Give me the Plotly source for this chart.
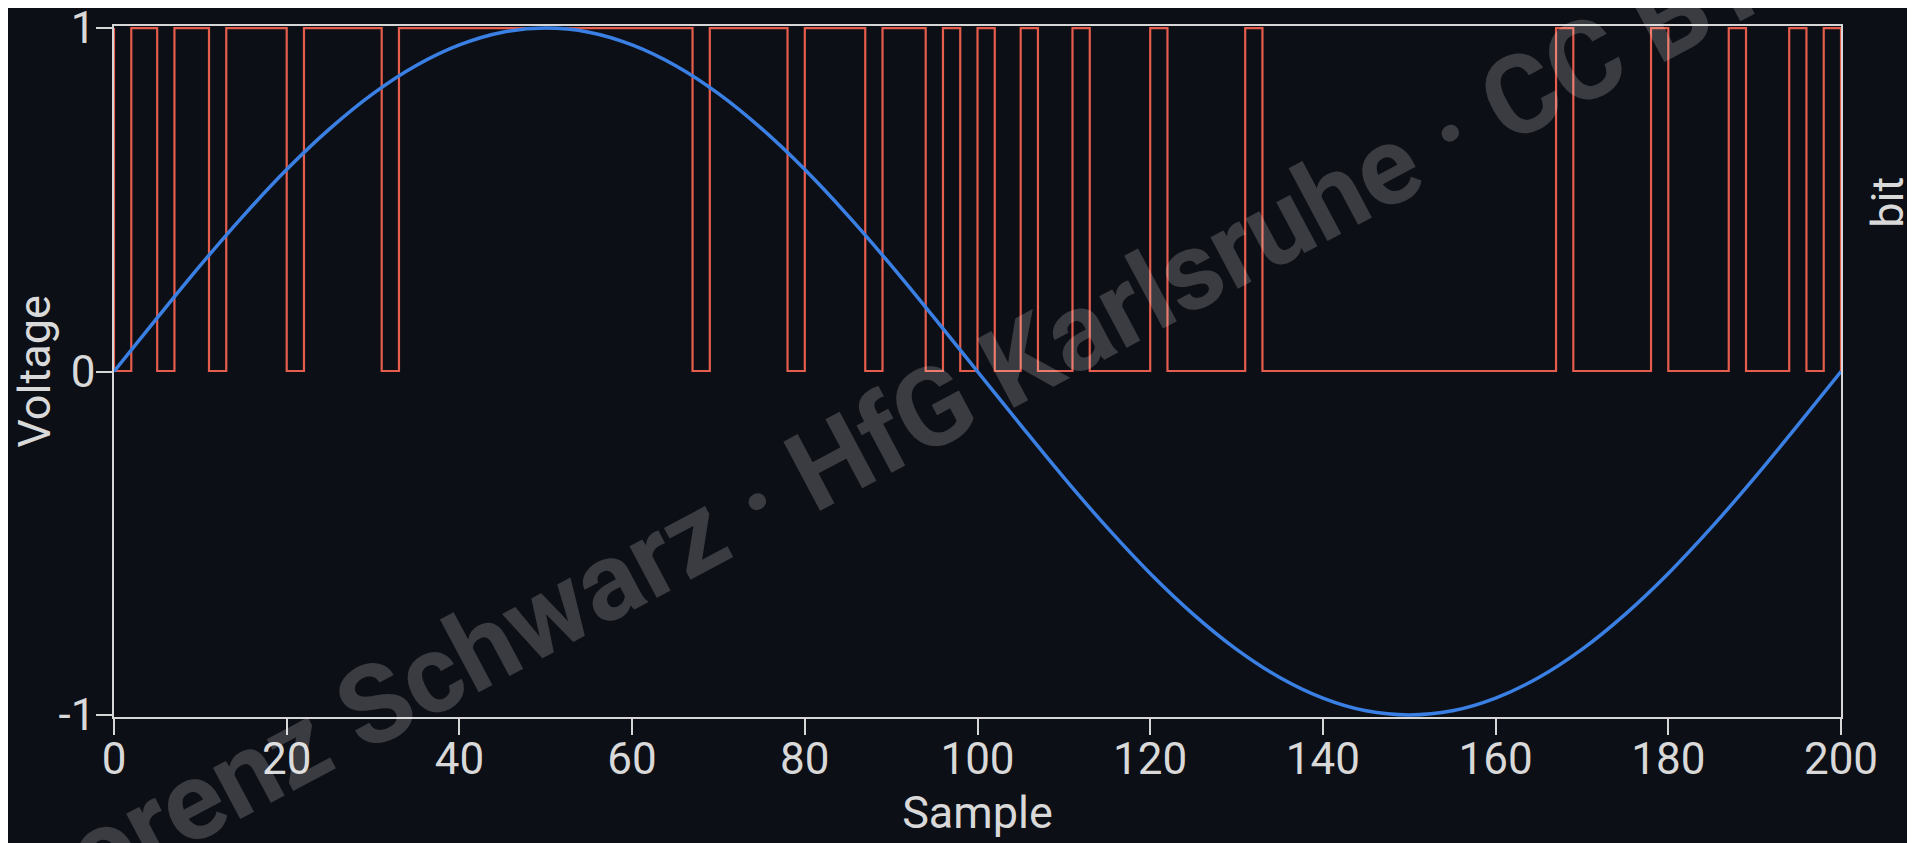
import plotly.graph_objects as go

# ---- data ----
volt_x = [0, 5, 10, 15, 20, 25, 30, 35, 40, 45, 50, 55, 60, 65, 70, 75, 80, 85, 90, 95, 100,
          105, 110, 115, 120, 125, 130, 135, 140, 145, 150, 155, 160, 165, 170, 175, 180, 185, 190, 195, 200]
volt_y = [0.0, 0.156, 0.309, 0.454, 0.588, 0.707, 0.809, 0.891, 0.951, 0.988, 1.0,
          0.988, 0.951, 0.891, 0.809, 0.707, 0.588, 0.454, 0.309, 0.156, 0.0,
          -0.156, -0.309, -0.454, -0.588, -0.707, -0.809, -0.891, -0.951, -0.988, -1.0,
          -0.988, -0.951, -0.891, -0.809, -0.707, -0.588, -0.454, -0.309, -0.156, 0.0]

# bit signal: sample positions where the level changes, and the level from there on
bit_x = [0, 0, 2, 5, 7, 11, 13, 20, 22, 31, 33, 67, 69, 78, 80, 87, 89, 94, 96, 98, 100,
         102, 105, 107, 111, 113, 120, 122, 131, 133, 167, 169, 178, 180, 187, 189, 194, 196, 198, 200]
bit_y = [1, 0, 1, 0, 1, 0, 1, 0, 1, 0, 1, 0, 1, 0, 1, 0, 1, 0, 1, 0, 1,
         0, 1, 0, 1, 0, 1, 0, 1, 0, 1, 0, 1, 0, 1, 0, 1, 0, 1, 0]

x_ticks = [0, 20, 40, 60, 80, 100, 120, 140, 160, 180, 200]
y_ticks = [-1, 0, 1]
y_ticktext = ["-1", "0", "1"]

BG = "#0d0f16"
AXIS = "#d6d6d6"
TEXT = "#d9d9d9"
BLUE = "#3a80e4"
RED = "#e55d4c"
FONT = "Roboto"

fig = go.Figure()
fig.add_trace(go.Scatter(x=bit_x, y=bit_y, mode="lines", line=dict(color=RED, width=2.2, shape="hv"),
                         xaxis="x", yaxis="y", name="bit", hoverinfo="skip"))
fig.add_trace(go.Scatter(x=volt_x, y=volt_y, mode="lines", line=dict(color=BLUE, width=3.5, shape="spline"),
                         xaxis="x", yaxis="y2", name="Voltage"))

fig.update_layout(
    width=1907, height=835,
    paper_bgcolor=BG, plot_bgcolor="rgba(0,0,0,0)",
    showlegend=False,
    margin=dict(l=106, r=74, t=18, b=126, autoexpand=False),
    font=dict(family=FONT, size=45, color=TEXT),
    xaxis=dict(
        range=[0, 200], anchor="y2", tickvals=x_ticks, automargin=False,
        showline=True, linecolor=AXIS, linewidth=1.5, mirror=True,
        ticks="outside", ticklen=16, tickwidth=1.5, tickcolor=AXIS,
        showgrid=False, zeroline=False, ticklabelstandoff=-14, ticklabeloverflow="allow",
        tickfont=dict(family=FONT, size=44, color=TEXT),
        title=dict(text="Sample", font=dict(family=FONT, size=45, color=TEXT), standoff=13),
    ),
    yaxis=dict(
        domain=[0.49, 1], range=[-0.0216, 1.006], anchor="x", side="right", automargin=False,
        showline=False, showgrid=False, zeroline=False, showticklabels=False, ticks="",
        title=dict(text="bit", font=dict(family=FONT, size=45, color=TEXT), standoff=30),
    ),
    yaxis2=dict(
        domain=[0, 1], range=[-1.006, 1.006], anchor="x", side="left", automargin=False,
        tickvals=y_ticks, ticktext=y_ticktext,
        showline=True, linecolor=AXIS, linewidth=1.5, mirror=True,
        ticks="outside", ticklen=16, tickwidth=1.5, tickcolor=AXIS,
        showgrid=False, zeroline=False, ticklabelstandoff=-8, ticklabeloverflow="allow",
        tickfont=dict(family=FONT, size=44, color=TEXT),
        title=dict(text="Voltage", font=dict(family=FONT, size=45, color=TEXT), standoff=6),
    ),
    annotations=[dict(
        text="Lorenz Schwarz · HfG Karlsruhe · CC BY",
        xref="paper", yref="paper", x=0.45, y=0.415,
        xanchor="center", yanchor="middle", showarrow=False, textangle=-28,
        font=dict(family=FONT, size=110, color="rgba(255,255,255,0.19)", weight="bold"),
    )],
)

fig.write_html("out.html")
